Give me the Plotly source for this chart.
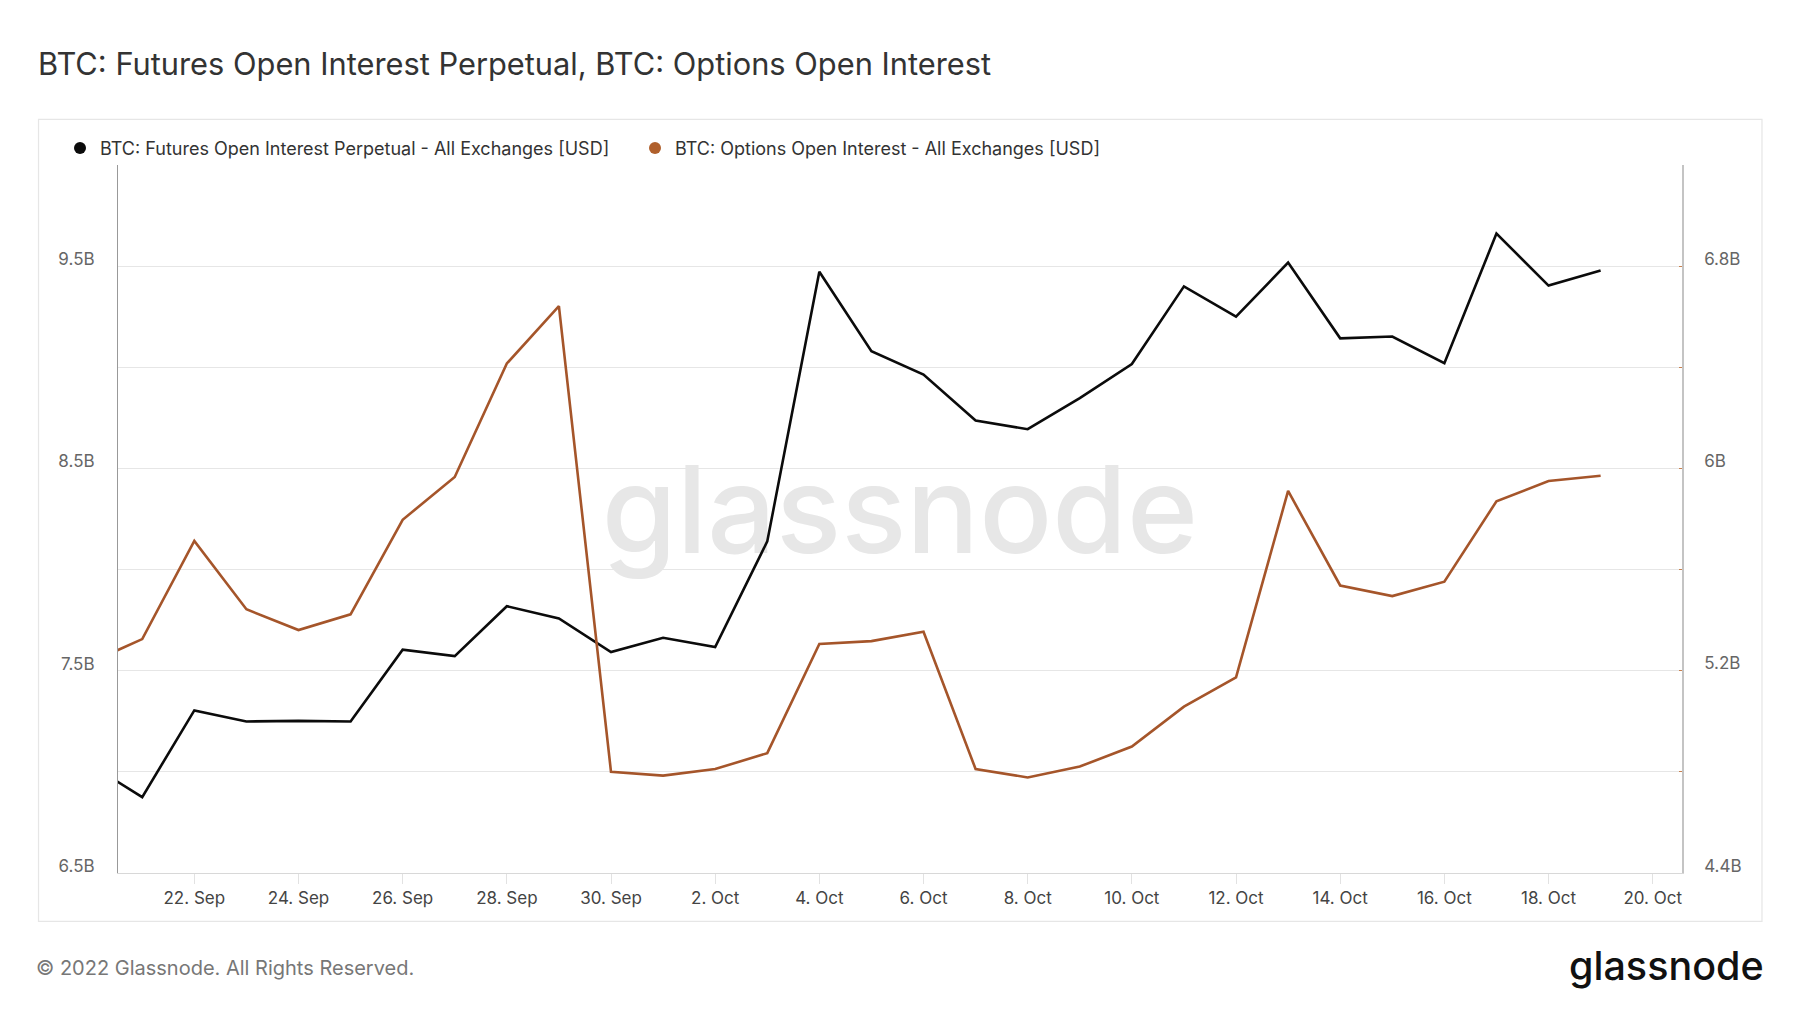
import numpy as np
import pandas as pd
import plotly.graph_objects as go

# ---------------- data ----------------
dates = pd.date_range("2022-09-20", "2022-10-19", freq="D")

futures_oi_b = [7.036, 6.875, 7.304, 7.249, 7.252, 7.249, 7.604, 7.572, 7.819, 7.758,
                7.592, 7.663, 7.617, 8.139, 9.472, 9.079, 8.964, 8.737, 8.694, 8.848,
                9.016, 9.400, 9.250, 9.518, 9.143, 9.152, 9.020, 9.661, 9.404, 9.479]

options_oi_b = [5.232, 5.325, 5.713, 5.443, 5.361, 5.423, 5.797, 5.966, 6.415, 6.642,
                4.800, 4.785, 4.811, 4.874, 5.306, 5.317, 5.354, 4.811, 4.778, 4.821,
                4.900, 5.058, 5.174, 5.911, 5.537, 5.495, 5.552, 5.870, 5.950, 5.971]

left_tick_vals_b = [6.5, 7.0, 7.5, 8.0, 8.5, 9.0, 9.5, 10.0]
left_tick_text = ["6.5B", "", "7.5B", "", "8.5B", "", "9.5B", ""]
right_tick_vals_b = [4.4, 4.8, 5.2, 5.6, 6.0, 6.4, 6.8, 7.2]
right_tick_text = ["4.4B", "", "5.2B", "", "6B", "", "6.8B", ""]

futures_name = "BTC: Futures Open Interest Perpetual - All Exchanges [USD]"
options_name = "BTC: Options Open Interest - All Exchanges [USD]"
title_text = "BTC: Futures Open Interest Perpetual, BTC: Options Open Interest"
footer_text = "© 2022 Glassnode. All Rights Reserved."
brand_text = "glassnode"

# ---------------- styling ----------------
BLACK = "#0b0b0b"
ORANGE = "#a5552a"
FONT = "Inter"
OFF = 8  # page body margin
W, H = 1800 - 2 * OFF, 1013 - 2 * OFF
PL, PR, PT, PB = 117.5, 1682.0, 164.6, 872.6   # plot area in window pixels
L, R, T, B = PL - OFF, W - (PR - OFF), PT - OFF, H - (PB - OFF)

x_range = [pd.Timestamp("2022-09-20 12:50"), pd.Timestamp("2022-10-20 13:30")]
yl_range = [6.5e9, 10.0e9]
yr_range = [4.4e9, 7.2e9]

fy = [v * 1e9 for v in futures_oi_b]
oy = [v * 1e9 for v in options_oi_b]

fig = go.Figure()

# watermark (behind lines)
x_mid = x_range[0] + (x_range[1] - x_range[0]) / 2
y_mid = (yl_range[0] + yl_range[1]) / 2 - 0.02e9
fig.add_trace(go.Scatter(
    x=[x_mid], y=[y_mid], mode="text", text=[brand_text],
    textfont=dict(family=FONT, size=121, color="#e7e7e7", weight=500),
    textposition="middle center", showlegend=False, hoverinfo="skip", yaxis="y"))

fig.add_trace(go.Scatter(x=dates, y=fy, mode="lines", name=futures_name,
                         line=dict(color=BLACK, width=2.6), showlegend=False, yaxis="y"))
fig.add_trace(go.Scatter(x=dates, y=oy, mode="lines", name=options_name,
                         line=dict(color=ORANGE, width=2.6), showlegend=False, yaxis="y2"))

# legend entries (dots)
fig.add_trace(go.Scatter(x=[None], y=[None], mode="markers", name=futures_name,
                         marker=dict(color=BLACK, size=12), yaxis="y"))
fig.add_trace(go.Scatter(x=[None], y=[None], mode="markers", name=options_name,
                         marker=dict(color="#b0602c", size=12), yaxis="y2"))

pw = PR - PL
ph = PB - PT
def px(xp):
    return (xp - PL) / pw
def py(yp):
    return (PB - yp) / ph

fig.update_layout(
    width=W, height=H,
    margin=dict(l=L, r=R, t=T, b=B, pad=0),
    paper_bgcolor="white", plot_bgcolor="white",
    font=dict(family=FONT, color="#555"),
    title=dict(text=title_text, x=(38 - OFF) / W, xref="container", xanchor="left",
               y=1 - (64 - OFF) / H, yref="container", yanchor="middle",
               font=dict(family=FONT, size=30.8, color="#333")),
    showlegend=True,
    legend=dict(orientation="h", x=px(59.5), xanchor="left", y=py(148), yanchor="middle",
                font=dict(family=FONT, size=18, color="#333"),
                itemwidth=30, entrywidth=530, bgcolor="rgba(0,0,0,0)"),
    xaxis=dict(type="date", range=x_range, tick0="2022-09-22", dtick=2 * 86400000,
               tickformat="%-d. %b", showgrid=False, showline=True, linecolor="#d8d8d8",
               ticks="outside", ticklen=10, tickcolor="#e2e2e2",
               tickfont=dict(family=FONT, size=17, color="#444"), zeroline=False),
    yaxis=dict(range=yl_range, tickvals=[v * 1e9 for v in left_tick_vals_b],
               ticktext=left_tick_text, showgrid=True, gridcolor="#e6e6e6", gridwidth=1,
               showline=True, linecolor="#999", linewidth=1, zeroline=False,
               ticks="", ticklabelposition="outside top", ticklabelstandoff=19,
               ticklabelshift=5,
               tickfont=dict(family=FONT, size=17, color="#666")),
    yaxis2=dict(range=yr_range, tickvals=[v * 1e9 for v in right_tick_vals_b],
                ticktext=right_tick_text, overlaying="y", side="right", showgrid=False,
                showline=True, linecolor="#c4c4c4", linewidth=1.5, zeroline=False,
                ticks="inside", ticklen=3, tickcolor="#c8814f",
                ticklabelposition="outside top", ticklabelstandoff=17,
                ticklabelshift=5,
                tickfont=dict(family=FONT, size=17, color="#666")),
    shapes=[dict(type="rect", xref="paper", yref="paper",
                 x0=px(38), x1=px(1762), y0=py(921), y1=py(119),
                 line=dict(color="#e6e6e6", width=1.2), fillcolor="rgba(0,0,0,0)",
                 layer="below")],
    annotations=[
        dict(text=footer_text, xref="paper", yref="paper", x=px(33.5), y=py(968),
             xanchor="left", yanchor="middle", showarrow=False,
             font=dict(family=FONT, size=20, color="#777")),
        dict(text=brand_text, xref="paper", yref="paper", x=px(1766), y=py(966),
             xanchor="right", yanchor="middle", showarrow=False,
             font=dict(family=FONT, size=39.5, color="#111", weight=500)),
    ],
)

fig.write_html("out.html", include_plotlyjs=True, config={"displayModeBar": False})
